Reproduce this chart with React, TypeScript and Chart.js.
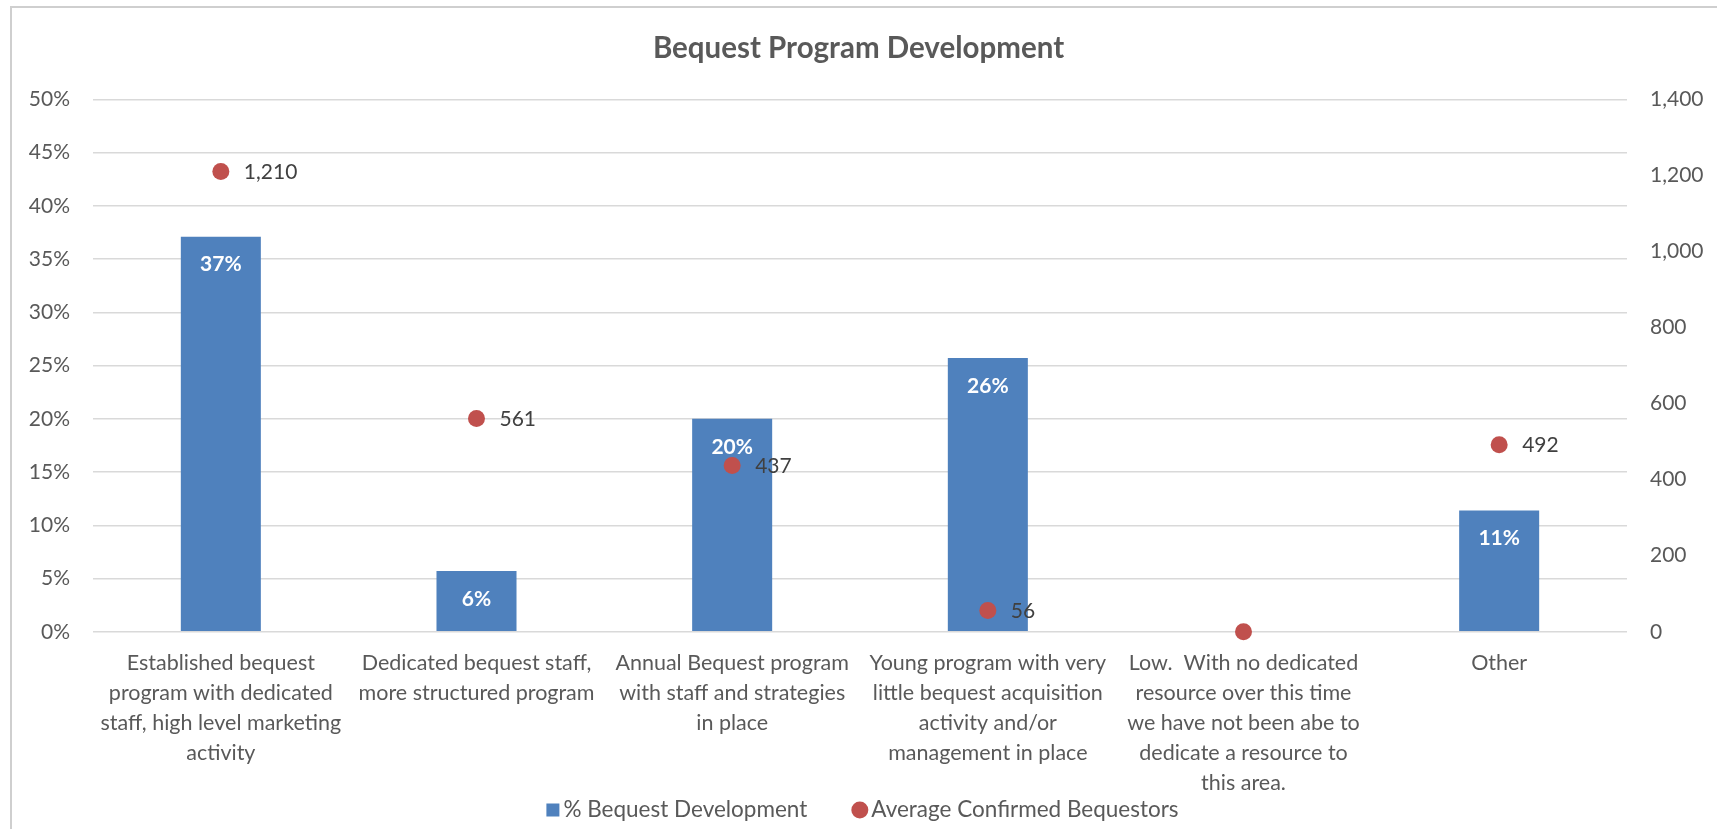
import React, { useEffect, useRef } from "react";
import { Chart, registerables } from "chart.js";

Chart.register(...registerables);

const chartTitle = "Bequest Program Development";
const categories: string[][] = [
  ["Established bequest", "program with dedicated", "staff, high level marketing", "activity"],
  ["Dedicated bequest staff,", "more structured program"],
  ["Annual Bequest program", "with staff and strategies", "in place"],
  ["Young program with very", "little bequest acquisition", "activity and/or", "management in place"],
  ["Low.  With no dedicated", "resource over this time", "we have not been abe to", "dedicate a resource to", "this area."],
  ["Other"],
];
const seriesBarName = "% Bequest Development";
const seriesDotName = "Average Confirmed Bequestors";
const pctValues = [37.1, 5.7, 20.0, 25.7, 0, 11.4];
const avgValues = [1210, 561, 437, 56, 0, 492];

const FONT = "Lato, 'Open Sans', sans-serif";
const BLUE = "#4F81BD";
const RED = "#C0504D";
const GRID = "#D9D9D9";
const TEXT = "#595959";
const LABEL = "#404040";

const framePlugin = {
  id: "frame",
  beforeDraw(chart: any) {
    const ctx = chart.ctx;
    ctx.save();
    ctx.fillStyle = "#ffffff";
    ctx.fillRect(0, 0, chart.width, chart.height);
    ctx.strokeStyle = "#CFCFCF";
    ctx.lineWidth = 2;
    ctx.beginPath();
    ctx.moveTo(11, chart.height);
    ctx.lineTo(11, 7);
    ctx.lineTo(chart.width, 7);
    ctx.stroke();
    ctx.restore();
  },
};

const valueLabelPlugin = {
  id: "valueLabels",
  afterDatasetsDraw(chart: any) {
    const ctx = chart.ctx;
    ctx.save();
    const barMeta = chart.getDatasetMeta(0);
    ctx.font = `bold 21px ${FONT}`;
    ctx.fillStyle = "#ffffff";
    ctx.textAlign = "center";
    ctx.textBaseline = "middle";
    barMeta.data.forEach((el: any, i: number) => {
      const v = pctValues[i];
      if (!v) return;
      ctx.fillText(`${Math.round(v)}%`, el.x, el.y + 28);
    });
    const dotMeta = chart.getDatasetMeta(1);
    ctx.font = `21px ${FONT}`;
    ctx.fillStyle = LABEL;
    ctx.textAlign = "left";
    dotMeta.data.forEach((el: any, i: number) => {
      const v = avgValues[i];
      if (!v) return;
      ctx.fillText(v.toLocaleString("en-US"), el.x + 23, el.y + 1);
    });
    ctx.restore();
  },
};

const legendPlugin = {
  id: "customLegend",
  afterDraw(chart: any) {
    const ctx = chart.ctx;
    ctx.save();
    ctx.font = `22.5px ${FONT}`;
    ctx.textBaseline = "middle";
    ctx.textAlign = "left";
    const y = 810;
    const sq = 13;
    const r = 8.5;
    const w1 = sq + 4 + ctx.measureText(seriesBarName).width;
    const w2 = 2 * r + 3 + ctx.measureText(seriesDotName).width;
    const gap = 44;
    let x = chart.width / 2 - (w1 + gap + w2) / 2 + 4;
    ctx.fillStyle = BLUE;
    ctx.fillRect(x, y - sq / 2, sq, sq);
    ctx.fillStyle = TEXT;
    ctx.fillText(seriesBarName, x + sq + 4, y);
    x += w1 + gap;
    ctx.fillStyle = RED;
    ctx.beginPath();
    ctx.arc(x + r, y, r, 0, Math.PI * 2);
    ctx.fill();
    ctx.fillStyle = TEXT;
    ctx.fillText(seriesDotName, x + 2 * r + 3, y);
    ctx.restore();
  },
};

export default function App() {
  const ref = useRef<HTMLCanvasElement>(null);
  useEffect(() => {
    if (!ref.current) return;
    const chart = new Chart(ref.current, {
      type: "bar",
      data: {
        labels: categories,
        datasets: [
          {
            type: "bar",
            label: seriesBarName,
            data: pctValues,
            backgroundColor: BLUE,
            yAxisID: "y",
            barPercentage: 1,
            categoryPercentage: 0.313,
            order: 1,
          } as any,
          {
            type: "line",
            label: seriesDotName,
            data: avgValues,
            showLine: false,
            pointRadius: 8.5,
            pointHoverRadius: 8.5,
            pointBackgroundColor: RED,
            pointBorderWidth: 0,
            borderColor: RED,
            backgroundColor: RED,
            yAxisID: "y1",
            clip: false,
            order: 0,
          } as any,
        ],
      },
      options: {
        animation: false,
        responsive: false,
        maintainAspectRatio: false,
        layout: { padding: { top: 0, left: 0, right: 0, bottom: 22.2 } },
        plugins: {
          legend: { display: false },
          tooltip: { enabled: false },
          title: {
            display: true,
            text: chartTitle,
            color: TEXT,
            font: { family: FONT, size: 29.5, weight: "bold" },
            padding: { top: 30.3, bottom: 33.6 },
          },
        },
        scales: {
          x: {
            grid: { display: false },
            border: { display: false },
            ticks: {
              color: TEXT,
              font: { family: FONT, size: 21.5, lineHeight: 30 / 21.5 },
              padding: 8.5,
              maxRotation: 0,
              minRotation: 0,
              autoSkip: false,
            },
          },
          y: {
            position: "left",
            min: 0,
            max: 50,
            grid: { color: GRID, lineWidth: 1.5, drawTicks: false },
            border: { display: false },
            ticks: {
              stepSize: 5,
              color: TEXT,
              padding: 23,
              font: { family: FONT, size: 21 },
              callback: (v: any) => `${v}%`,
            },
            afterFit: (s: any) => { s.width = 93; },
          },
          y1: {
            position: "right",
            min: 0,
            max: 1400,
            grid: { display: false, drawTicks: false },
            border: { display: false },
            ticks: {
              stepSize: 200,
              color: TEXT,
              padding: 23,
              font: { family: FONT, size: 21 },
              callback: (v: any) => Number(v).toLocaleString("en-US"),
            },
            afterFit: (s: any) => { s.width = 90; },
          },
        },
      },
      plugins: [framePlugin, valueLabelPlugin, legendPlugin],
    });
    return () => chart.destroy();
  }, []);
  return (
    <div style={{ position: "fixed", left: 0, top: 0, width: 1717, height: 829, background: "#fff" }}>
      <canvas ref={ref} width={1717} height={829} style={{ width: 1717, height: 829, display: "block" }} />
    </div>
  );
}
